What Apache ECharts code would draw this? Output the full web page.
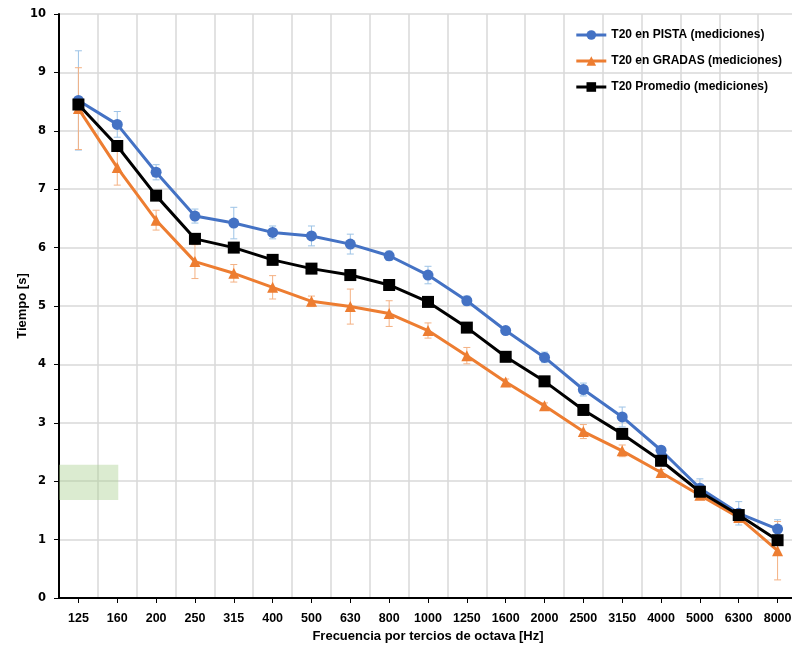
<!DOCTYPE html>
<html>
<head>
<meta charset="utf-8">
<script src="https://cdn.jsdelivr.net/npm/echarts@6/dist/echarts.min.js"></script>
<style>
  html, body { margin: 0; padding: 0; background: #ffffff; }
  #chart { width: 792px; height: 648px; }
</style>
</head>
<body>
<div id="chart"></div>
<script>
// Frecuencias centrales de tercio de octava [Hz]
const frecuencias = ['125','160','200','250','315','400','500','630','800','1000','1250','1600','2000','2500','3150','4000','5000','6300','8000'];

// T20 medido en pista [s] y su desviación
const t20Pista = [8.52, 8.11, 7.29, 6.54, 6.42, 6.26, 6.20, 6.06, 5.86, 5.53, 5.09, 4.58, 4.12, 3.57, 3.10, 2.53, 1.88, 1.45, 1.18];
const errPista = [0.85, 0.22, 0.13, 0.12, 0.27, 0.11, 0.17, 0.17, 0.08, 0.15, 0.08, 0.05, 0.09, 0.11, 0.17, 0.05, 0.16, 0.20, 0.16];

// T20 medido en gradas [s] y su desviación
const t20Gradas = [8.38, 7.37, 6.47, 5.76, 5.56, 5.32, 5.08, 4.99, 4.87, 4.58, 4.15, 3.70, 3.29, 2.85, 2.52, 2.15, 1.76, 1.38, 0.81];
const errGradas = [0.70, 0.30, 0.17, 0.29, 0.15, 0.20, 0.09, 0.30, 0.22, 0.13, 0.14, 0.05, 0.05, 0.12, 0.10, 0.05, 0.05, 0.05, 0.50];

// T20 promedio [s]
const t20Promedio = [8.45, 7.74, 6.89, 6.15, 6.00, 5.79, 5.64, 5.53, 5.36, 5.07, 4.63, 4.13, 3.71, 3.22, 2.81, 2.35, 1.82, 1.42, 0.99];

// Franja sombreada [categoría inicial, categoría final, T mín, T máx]
const franja = [[0, 1, 1.68, 2.28]];

const nombres = ['T20 en PISTA (mediciones)', 'T20 en GRADAS (mediciones)', 'T20 Promedio (mediciones)'];

const AZUL = '#4472C4', NARANJA = '#ED7D31', NEGRO = '#000000';
const FUENTE = '"Liberation Sans", Arial, sans-serif';

function barrasError(valores, errores) {
  return valores.map((v, i) => [i, v, errores[i]]);
}

function dibujarError(color) {
  return function (params, api) {
    const i = api.value(0), v = api.value(1), e = api.value(2);
    const a = api.coord([i, v + e]);
    const b = api.coord([i, v - e]);
    const w = 3.5;
    const st = { stroke: color, lineWidth: 1 };
    return {
      type: 'group',
      children: [
        { type: 'line', shape: { x1: a[0], y1: a[1], x2: b[0], y2: b[1] }, style: st },
        { type: 'line', shape: { x1: a[0] - w, y1: a[1], x2: a[0] + w, y2: a[1] }, style: st },
        { type: 'line', shape: { x1: b[0] - w, y1: b[1], x2: b[0] + w, y2: b[1] }, style: st }
      ]
    };
  };
}

const chart = echarts.init(document.getElementById('chart'), null, { renderer: 'canvas' });

chart.setOption({
  animation: false,
  backgroundColor: '#ffffff',
  grid: { left: 59, right: -5, top: 14, bottom: 50, containLabel: false, outerBoundsMode: 'none' },
  legend: {
    orient: 'vertical',
    right: 5,
    top: 24,
    itemGap: 14,
    itemWidth: 30,
    itemHeight: 12,
    data: nombres,
    lineStyle: { width: 3 },
    textStyle: { fontFamily: FUENTE, fontWeight: 'bold', fontSize: 12, color: '#000' }
  },
  xAxis: {
    type: 'category',
    data: frecuencias,
    boundaryGap: true,
    name: 'Frecuencia por tercios de octava [Hz]',
    nameLocation: 'middle',
    nameGap: 32,
    nameTextStyle: { fontFamily: FUENTE, fontWeight: 'bold', fontSize: 13, color: '#000' },
    axisLine: { lineStyle: { color: '#000', width: 2 } },
    axisTick: { show: true, alignWithLabel: true, length: 5, lineStyle: { color: '#000', width: 1 } },
    axisLabel: { fontFamily: FUENTE, fontWeight: 'bold', fontSize: 12.5, color: '#000', margin: 14, interval: 0 },
    splitLine: { show: true, interval: 0, lineStyle: { color: '#d9d9d9', width: 1.5 } }
  },
  yAxis: {
    type: 'value',
    min: 0,
    max: 10,
    interval: 1,
    name: 'Tiempo [s]',
    nameLocation: 'middle',
    nameRotate: 90,
    nameGap: 30,
    nameMoveOverlap: false,
    nameTextStyle: { fontFamily: FUENTE, fontWeight: 'bold', fontSize: 13, color: '#000' },
    axisLine: { show: true, lineStyle: { color: '#000', width: 2 } },
    axisTick: { show: true, length: 5, lineStyle: { color: '#000', width: 1 } },
    axisLabel: { fontFamily: '"DejaVu Sans", Verdana, sans-serif', fontWeight: 'bold', fontSize: 11.5, color: '#000', margin: 13 },
    splitLine: { show: true, lineStyle: { color: '#d9d9d9', width: 1.5 } }
  },
  series: [
    {
      name: 'franja',
      type: 'custom',
      silent: true,
      z: 1,
      data: franja,
      renderItem: function (params, api) {
        const banda = api.size([1, 0])[0];
        const p0 = api.coord([api.value(0), api.value(3)]);
        const p1 = api.coord([api.value(1), api.value(2)]);
        const x0 = p0[0] - banda / 2;
        return {
          type: 'rect',
          shape: { x: x0, y: p0[1], width: p1[0] - x0 + 1, height: p1[1] - p0[1] },
          style: { fill: 'rgba(169, 208, 142, 0.42)' }
        };
      }
    },
    {
      name: 'errPista',
      type: 'custom',
      silent: true,
      z: 2,
      data: barrasError(t20Pista, errPista),
      renderItem: dibujarError('#9DC3E6')
    },
    {
      name: 'errGradas',
      type: 'custom',
      silent: true,
      z: 2,
      data: barrasError(t20Gradas, errGradas),
      renderItem: dibujarError('#F4B183')
    },
    {
      name: nombres[0],
      type: 'line',
      z: 3,
      data: t20Pista,
      color: AZUL,
      symbol: 'circle',
      symbolSize: 11,
      lineStyle: { width: 3, color: AZUL },
      itemStyle: { color: AZUL }
    },
    {
      name: nombres[1],
      type: 'line',
      z: 4,
      data: t20Gradas,
      color: NARANJA,
      symbol: 'triangle',
      symbolSize: 11,
      lineStyle: { width: 3, color: NARANJA },
      itemStyle: { color: NARANJA }
    },
    {
      name: nombres[2],
      type: 'line',
      z: 5,
      data: t20Promedio,
      color: NEGRO,
      symbol: 'rect',
      symbolSize: 12,
      lineStyle: { width: 3, color: NEGRO },
      itemStyle: { color: NEGRO }
    }
  ]
});
</script>
</body>
</html>
